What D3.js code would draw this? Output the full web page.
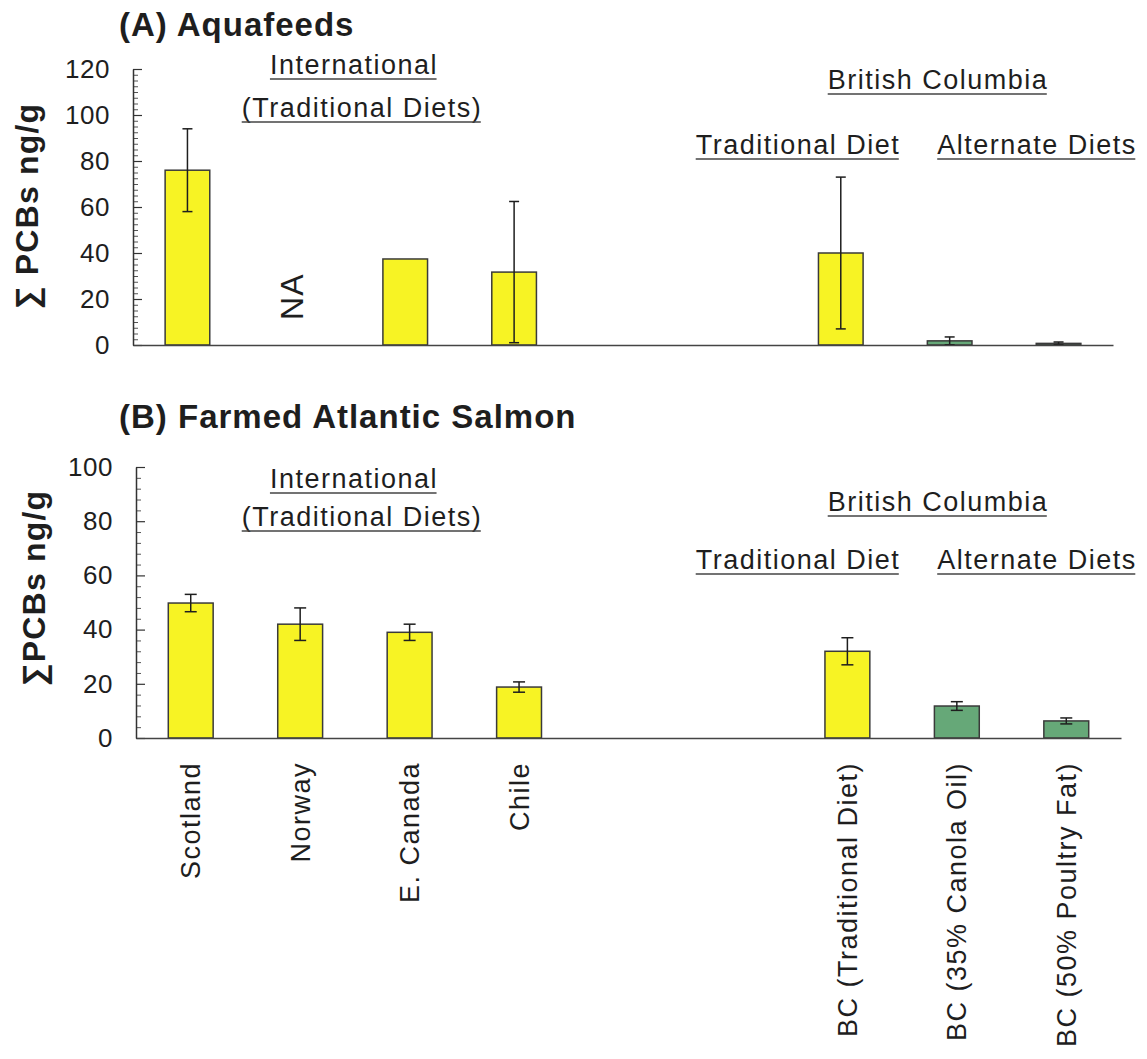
<!DOCTYPE html>
<html>
<head>
<meta charset="utf-8">
<script src="https://cdn.jsdelivr.net/npm/d3@7"></script>
<style>
    body { margin: 0; background: #fff; }
    svg { font-family: "Liberation Sans", Arial, sans-serif; }
</style>
</head>
<body>
<div id="chart"></div>
<script>
// categories on the x axis (two empty slots split International / BC)
var categories = ["Scotland", "Norway", "E. Canada", "Chile",
    "BC (Traditional Diet)", "BC (35% Canola Oil)", "BC (50% Poultry Fat)"];
var gapSlots = ["gap-1", "gap-2"];
var dietType = ["traditional", "traditional", "traditional", "traditional",
    "traditional", "alternate", "alternate"];

// (A) Aquafeeds, sum PCBs ng/g (null = not available)
var feedMean = [76, null, 37.4, 31.7, 40, 1.8, 0.7];
var feedErr = [18, null, null, 30.7, 33, 1.7, 0.6];

// (B) Farmed Atlantic Salmon, sum PCBs ng/g
var salmonMean = [49.8, 42, 39, 18.8, 32, 11.8, 6.3];
var salmonErr = [3.2, 6, 3, 1.9, 5, 1.6, 1.1];

var feedTicks = [0, 20, 40, 60, 80, 100, 120];
var salmonTicks = [0, 20, 40, 60, 80, 100];

var groupLabels = ["International", "(Traditional Diets)", "British Columbia",
    "Traditional Diet", "Alternate Diets"];

function init() {
    var width = 1147;
    var height = 1059;

    var svg = d3.select("#chart")
        .append("svg")
        .attr("width", width)
        .attr("height", height);

    var slots = categories.slice(0, 4).concat(gapSlots, categories.slice(4));

    var yellow = "#f7f324";
    var green = "#66a878";
    var ink = "#1e1e1e";
    var font = "'Liberation Sans', Arial, sans-serif";

    function drawPanel(o) {
        var x = d3.scaleBand()
            .domain(slots)
            .range(o.xRange)
            .paddingInner(0.59)
            .paddingOuter(0.295);

        var y = d3.scaleLinear()
            .domain([0, o.yMax])
            .range(o.yRange);

        var g = svg.append("g");

        var data = categories.map((c, i) => ({
            name: c, mean: o.means[i], err: o.errs[i], type: dietType[i]
        }));

        // title
        g.append("text")
            .attr("x", 119)
            .attr("y", o.titleY)
            .attr("font-size", 33)
            .attr("font-weight", "bold")
            .attr("letter-spacing", 1)
            .attr("fill", ink)
            .text(o.title);

        // y label
        g.append("text")
            .attr("transform", `translate(${o.yLabelPos[0]},${o.yLabelPos[1]}) rotate(-90)`)
            .attr("text-anchor", "middle")
            .attr("font-size", 32)
            .attr("font-weight", "bold")
            .attr("letter-spacing", 1.2)
            .attr("fill", ink)
            .text(o.yLabel);

        // minor ticks
        var minor = d3.range(0, o.yMax + 0.01, o.minorStep).filter(v => o.ticks.indexOf(v) < 0);
        var minorAxis = g.append("g")
            .attr("transform", `translate(${o.xRange[0]},0)`)
            .call(d3.axisLeft(y).tickValues(minor).tickSize(-5).tickFormat(""));
        minorAxis.select(".domain").remove();
        minorAxis.selectAll("line").attr("stroke", "#555");

        // major ticks + labels
        var yAxis = g.append("g")
            .attr("transform", `translate(${o.xRange[0]},0)`)
            .call(d3.axisLeft(y).tickValues(o.ticks).tickSizeInner(-9).tickSizeOuter(0).tickPadding(23));
        yAxis.select(".domain").attr("stroke", "#333").attr("stroke-width", 1.5);
        yAxis.selectAll("line").attr("stroke", "#333").attr("stroke-width", 1.2);
        yAxis.selectAll("text")
            .attr("font-family", font)
            .attr("font-size", 26)
            .attr("letter-spacing", 0.5)
            .attr("fill", ink);

        // bars
        g.selectAll(".bar")
            .data(data.filter(d => d.mean != null))
            .enter()
            .append("rect")
            .attr("class", "bar")
            .attr("x", d => x(d.name))
            .attr("y", d => y(d.mean))
            .attr("width", x.bandwidth())
            .attr("height", d => y(0) - y(d.mean))
            .style("fill", d => d.type === "traditional" ? yellow : green)
            .attr("stroke", "#3a3a3a")
            .attr("stroke-width", 1.5);

        // NA marker
        data.filter(d => d.mean == null).forEach(d => {
            var cx = x(d.name) + x.bandwidth() / 2 - 5;
            g.append("text")
                .attr("transform", `translate(${cx},${y(21)}) rotate(-90)`)
                .attr("text-anchor", "middle")
                .attr("dy", "0.35em")
                .attr("font-size", 32)
                .attr("letter-spacing", 1)
                .attr("fill", ink)
                .text("NA");
        });

        // error bars
        var eb = g.selectAll(".err")
            .data(data.filter(d => d.mean != null && d.err != null))
            .enter()
            .append("g")
            .attr("class", "err")
            .attr("transform", d => `translate(${x(d.name) + x.bandwidth() / 2},0)`)
            .attr("stroke", ink)
            .attr("stroke-width", 1.5);
        eb.append("line")
            .attr("y1", d => y(Math.max(0, d.mean - d.err)))
            .attr("y2", d => y(d.mean + d.err));
        eb.append("line")
            .attr("x1", -o.cap).attr("x2", o.cap)
            .attr("y1", d => y(d.mean + d.err)).attr("y2", d => y(d.mean + d.err));
        eb.append("line")
            .attr("x1", -o.cap).attr("x2", o.cap)
            .attr("y1", d => y(Math.max(0, d.mean - d.err))).attr("y2", d => y(Math.max(0, d.mean - d.err)));

        // x axis baseline (+ category labels on the lower panel)
        var xAxis = g.append("g")
            .attr("transform", `translate(0,${y(0)})`)
            .call(d3.axisBottom(x).tickValues(categories).tickSize(0).tickSizeOuter(0)
                .tickFormat(d => o.showLabels ? d : ""));
        xAxis.select(".domain").attr("stroke", "#444").attr("stroke-width", 1.5);
        xAxis.selectAll("text")
            .attr("transform", "rotate(-90)")
            .attr("x", -24)
            .attr("y", 0)
            .attr("dy", "0.35em")
            .attr("text-anchor", "end")
            .attr("font-family", font)
            .attr("font-size", 27)
            .attr("letter-spacing", 1.5)
            .attr("fill", ink);

        // group headings, underlined
        groupLabels.forEach((t, i) => {
            var pos = o.groupPos[i];
            var txt = g.append("text")
                .attr("x", pos[0])
                .attr("y", pos[1])
                .attr("text-anchor", "middle")
                .attr("font-size", 27)
                .attr("letter-spacing", 1.5)
                .attr("fill", ink)
                .text(t);
            var bb = txt.node().getBBox();
            g.append("line")
                .attr("x1", bb.x)
                .attr("x2", bb.x + bb.width - 1.5)
                .attr("y1", pos[1] + 5)
                .attr("y2", pos[1] + 5)
                .attr("stroke", "#444")
                .attr("stroke-width", 1.5);
        });
    }

    drawPanel({
        title: "(A) Aquafeeds", titleY: 36,
        yLabel: "\u2211 PCBs ng/g", yLabelPos: [38, 206],
        means: feedMean, errs: feedErr,
        ticks: feedTicks, yMax: 120, minorStep: 2.5,
        xRange: [133, 1113], yRange: [345, 69],
        cap: 5, showLabels: false,
        groupPos: [[354, 74], [362, 117], [938, 89], [798, 154], [1037, 154]]
    });

    drawPanel({
        title: "(B) Farmed Atlantic Salmon", titleY: 428,
        yLabel: "\u2211PCBs ng/g", yLabelPos: [45, 588],
        means: salmonMean, errs: salmonErr,
        ticks: salmonTicks, yMax: 100, minorStep: 4,
        xRange: [136, 1121], yRange: [738, 467],
        cap: 6, showLabels: true,
        groupPos: [[354, 488], [362, 526], [938, 511], [798, 569], [1037, 569]]
    });
}

window.onload = init;
</script>
</body>
</html>
